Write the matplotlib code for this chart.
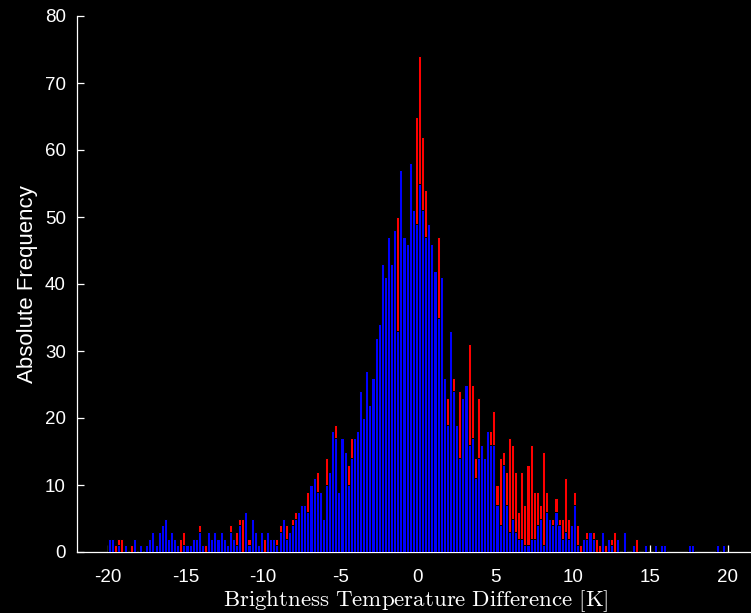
import numpy as np
import matplotlib
matplotlib.use("Agg")
import matplotlib.pyplot as plt

# Histogram bins: 0.2 K wide, from -20 K to +20 K
bin_edges = np.linspace(-20, 20, 201)

# Counts per bin, second data set (drawn in front, blue)
blue_counts = [
    2, 2, 0, 1, 0, 1, 0, 0, 2, 0,
    1, 0, 1, 2, 3, 1, 3, 4, 5, 2,
    3, 2, 1, 0, 1, 1, 1, 2, 2, 3,
    1, 0, 3, 2, 3, 2, 3, 2, 1, 3,
    2, 1, 4, 0, 6, 1, 5, 3, 1, 3,
    0, 3, 2, 2, 1, 3, 5, 2, 3, 4,
    5, 6, 7, 7, 6, 10, 11, 9, 9, 5,
    10, 12, 18, 17, 9, 17, 15, 10, 14, 17,
    18, 24, 20, 27, 22, 26, 32, 34, 43, 41,
    47, 43, 48, 33, 57, 47, 46, 58, 51, 49,
    55, 51, 47, 49, 46, 42, 35, 41, 26, 19,
    33, 24, 19, 14, 23, 25, 16, 17, 11, 14,
    16, 14, 18, 16, 16, 7, 4, 13, 7, 3,
    5, 3, 2, 2, 1, 1, 2, 2, 4, 5,
    1, 6, 5, 4, 6, 4, 2, 3, 2, 4,
    7, 1, 0, 2, 2, 3, 2, 0, 0, 3,
    0, 2, 1, 0, 2, 0, 3, 0, 0, 1,
    0, 0, 0, 1, 0, 0, 1, 0, 1, 1,
    0, 0, 0, 0, 0, 0, 0, 1, 1, 0,
    0, 0, 0, 0, 0, 0, 1, 0, 1, 0,
]

# Counts per bin, first data set (drawn behind, red)
red_counts = [
    0, 0, 1, 2, 2, 0, 0, 1, 0, 0,
    0, 0, 0, 0, 0, 0, 0, 0, 0, 0,
    0, 0, 0, 2, 3, 0, 0, 0, 0, 4,
    0, 1, 0, 0, 0, 0, 0, 0, 0, 4,
    0, 3, 5, 5, 0, 2, 0, 0, 0, 0,
    2, 0, 0, 0, 2, 4, 0, 4, 0, 5,
    6, 0, 0, 0, 9, 0, 0, 12, 0, 0,
    14, 0, 0, 19, 0, 0, 0, 13, 17, 0,
    0, 0, 0, 0, 0, 0, 0, 0, 0, 0,
    0, 0, 0, 50, 0, 0, 0, 0, 0, 65,
    74, 62, 54, 0, 0, 0, 47, 0, 0, 23,
    0, 26, 0, 24, 0, 0, 31, 25, 14, 23,
    0, 0, 0, 18, 21, 10, 14, 15, 12, 17,
    16, 12, 6, 12, 7, 13, 16, 9, 9, 7,
    15, 9, 0, 5, 8, 5, 5, 11, 5, 0,
    9, 4, 1, 0, 3, 0, 3, 2, 1, 0,
    1, 0, 2, 3, 0, 0, 0, 0, 0, 0,
    2, 0, 0, 0, 0, 0, 0, 0, 0, 0,
    0, 0, 0, 0, 0, 0, 0, 0, 0, 0,
    0, 0, 0, 0, 0, 0, 0, 0, 0, 0,
]

x_ticks = [-20, -15, -10, -5, 0, 5, 10, 15, 20]
y_ticks = [0, 10, 20, 30, 40, 50, 60, 70, 80]
x_label = "Brightness Temperature Difference [K]"
y_label = "Absolute Frequency"

plt.rcParams["mathtext.fontset"] = "cm"

W, H = 751, 613
fig = plt.figure(figsize=(W / 100, H / 100), dpi=100, facecolor="black")
ax_left, ax_bottom = 77, 61
ax_w = 44 * 15.5
ax_h = 536
ax = fig.add_axes([ax_left / W, ax_bottom / H, ax_w / W, ax_h / H])
ax.set_facecolor("black")

left = bin_edges[:-1]
widths = np.diff(bin_edges)
ax.bar(left, red_counts, width=widths, align="edge", color="#ff0000",
       edgecolor="black", linewidth=0.7, zorder=3)
ax.bar(left, blue_counts, width=widths, align="edge", color="#0000ff",
       edgecolor="black", linewidth=0.7, zorder=4)

ax.set_xlim(-22, 22)
ax.set_ylim(0, 80)
ax.set_xticks(x_ticks)
ax.set_yticks(y_ticks)
ax.set_xticklabels([str(t) for t in x_ticks])
ax.set_yticklabels([str(t) for t in y_ticks])

for side in ("top", "right"):
    ax.spines[side].set_visible(False)
for side in ("left", "bottom"):
    ax.spines[side].set_color("white")
    ax.spines[side].set_linewidth(0.9)

ax.tick_params(axis="both", direction="in", colors="white", length=5,
               width=0.9, labelsize=13.5)
ax.tick_params(axis="x", pad=12)
ax.tick_params(axis="y", pad=8)
for lbl in ax.get_xticklabels() + ax.get_yticklabels():
    lbl.set_family(["Liberation Sans", "DejaVu Sans"])

ax.set_ylabel(y_label, color="white", fontsize=16,
              family=["Liberation Sans", "DejaVu Sans"], labelpad=5)
fig.text(416 / W, 1 - 601 / H, r"$\mathrm{Brightness\ Temperature\ Difference\ [K]}$",
         color="white", fontsize=16.5, ha="center", va="center")

fig.savefig("out.png", dpi=100, facecolor="black")
